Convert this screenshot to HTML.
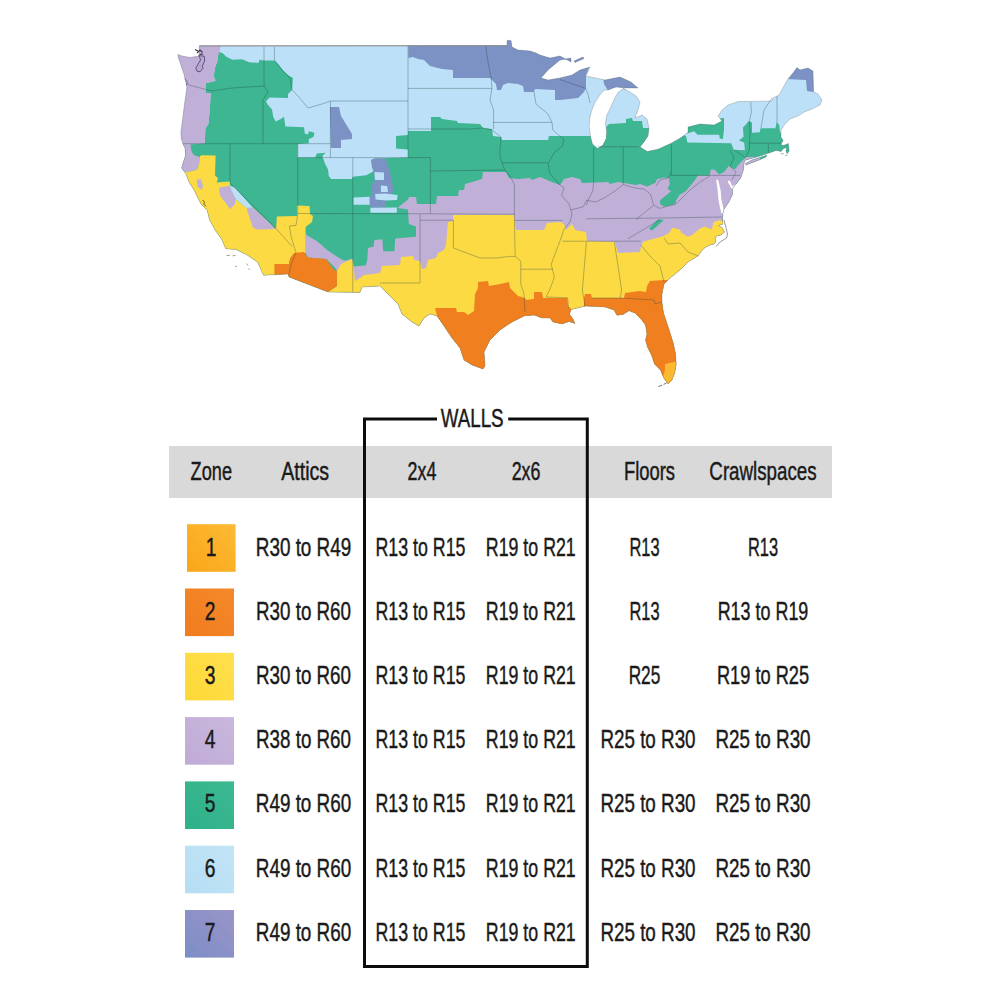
<!DOCTYPE html>
<html><head><meta charset="utf-8"><title>Insulation R-value by climate zone</title>
<style>
html,body{margin:0;padding:0;background:#fff;}
body{width:1000px;height:1000px;overflow:hidden;}
svg{display:block;font-family:"Liberation Sans",sans-serif;}
</style></head><body>
<svg width="1000" height="1000" viewBox="0 0 1000 1000">
<defs><linearGradient id="g0" x1="0" y1="1" x2="1" y2="0"><stop offset="0" stop-color="#F9A619"/><stop offset="1" stop-color="#FDBA35"/></linearGradient><linearGradient id="g1" x1="0" y1="1" x2="1" y2="0"><stop offset="0" stop-color="#F07C1E"/><stop offset="1" stop-color="#F5892A"/></linearGradient><linearGradient id="g2" x1="0" y1="1" x2="1" y2="0"><stop offset="0" stop-color="#FDD835"/><stop offset="1" stop-color="#FFE04F"/></linearGradient><linearGradient id="g3" x1="0" y1="1" x2="1" y2="0"><stop offset="0" stop-color="#BFAAD6"/><stop offset="1" stop-color="#C9B8DD"/></linearGradient><linearGradient id="g4" x1="0" y1="1" x2="1" y2="0"><stop offset="0" stop-color="#2EB088"/><stop offset="1" stop-color="#3DB992"/></linearGradient><linearGradient id="g5" x1="0" y1="1" x2="1" y2="0"><stop offset="0" stop-color="#B5DEF3"/><stop offset="1" stop-color="#C3E4F6"/></linearGradient><linearGradient id="g6" x1="0" y1="1" x2="1" y2="0"><stop offset="0" stop-color="#7C8DC6"/><stop offset="1" stop-color="#9A95C8"/></linearGradient></defs>
<rect width="1000" height="1000" fill="#fff"/>
<clipPath id="us"><path d="M199.4 45.8 L199.0 56.0 L190.0 57.4 L182.0 56.0 L177.8 54.4 L178.4 58.0 L180.2 62.8 L182.0 68.8 L183.8 73.6 L185.0 79.6 L186.2 83.2 L186.8 88.0 L185.6 96.4 L184.4 104.8 L183.2 114.4 L182.0 124.0 L180.8 132.4 L181.4 139.6 L183.2 144.4 L185.0 148.0 L185.6 155.2 L184.0 160.0 L181.6 168.0 L186.0 174.0 L189.0 182.0 L194.0 190.0 L198.0 198.0 L201.0 204.0 L204.0 207.0 L207.2 210.4 L209.6 220.0 L215.6 230.8 L221.6 239.2 L225.8 248.8 L236.0 249.4 L246.8 254.8 L257.6 262.0 L262.4 272.8 L263.6 275.2 L288.0 274.0 L289.0 277.0 L328.0 292.0 L360.0 292.4 L362.0 287.0 L380.0 286.0 L390.0 296.0 L398.0 304.0 L402.0 314.0 L412.0 322.0 L419.0 326.0 L424.0 318.0 L430.0 314.0 L437.0 316.0 L444.0 326.0 L452.0 338.0 L460.0 348.0 L464.0 360.0 L472.0 365.0 L483.0 369.0 L485.0 366.0 L484.0 352.0 L490.0 340.0 L500.0 330.0 L512.0 322.0 L524.0 316.0 L534.0 315.0 L542.0 318.0 L550.0 318.0 L553.0 322.0 L562.0 324.0 L569.0 321.4 L574.8 323.4 L573.2 319.5 L569.4 314.0 L571.2 309.5 L578.4 307.7 L586.0 306.0 L590.0 306.2 L605.0 307.0 L614.0 310.0 L617.0 315.2 L623.0 314.5 L629.0 310.7 L635.0 313.0 L641.0 319.0 L645.5 325.0 L647.0 334.0 L645.5 340.0 L647.7 347.5 L651.5 355.0 L654.5 364.0 L660.5 370.0 L663.5 377.5 L668.0 383.8 L671.7 380.5 L674.7 373.0 L676.2 364.0 L675.5 353.5 L673.2 343.0 L669.5 331.0 L666.5 322.0 L663.5 313.0 L662.0 302.5 L662.0 294.0 L664.0 284.0 L670.0 278.0 L680.0 270.0 L688.0 262.0 L698.0 256.0 L701.5 251.0 L705.0 247.5 L710.0 245.0 L714.0 244.0 L716.0 241.0 L715.0 239.0 L716.5 236.0 L721.0 235.0 L724.5 232.0 L722.0 227.5 L718.5 225.5 L723.0 224.0 L722.5 219.0 L722.8 214.0 L724.0 209.2 L728.8 202.0 L732.4 194.8 L732.4 188.8 L736.0 184.0 L740.8 178.0 L743.2 170.8 L744.4 161.2 L746.0 160.0 L760.0 156.0 L772.0 152.0 L776.0 150.4 L781.0 151.6 L783.5 148.6 L786.6 147.4 L786.0 151.0 L787.1 153.8 L789.2 151.0 L788.4 143.5 L783.4 145.6 L780.8 144.4 L783.2 140.6 L781.0 137.0 L781.0 130.0 L785.0 124.0 L790.0 119.0 L798.0 116.0 L804.0 112.0 L812.0 109.0 L820.0 105.0 L822.0 100.0 L818.0 94.0 L813.6 92.0 L813.0 71.0 L808.0 68.0 L800.0 70.0 L797.0 67.6 L793.0 73.0 L788.0 79.0 L784.0 86.0 L779.0 95.0 L773.0 98.0 L772.0 101.0 L738.0 101.6 L728.0 105.0 L722.0 110.0 L718.0 116.0 L722.0 121.0 L714.0 125.0 L700.0 124.0 L688.0 127.0 L688.0 132.4 L679.6 138.4 L671.2 143.2 L658.0 149.2 L647.2 151.6 L640.0 147.0 L644.0 142.0 L648.0 136.0 L649.0 128.0 L647.0 119.0 L642.0 115.0 L635.0 118.0 L638.0 110.0 L640.0 102.0 L636.0 96.0 L630.0 92.0 L623.6 88.6 L618.4 92.0 L614.5 98.5 L610.6 107.6 L606.7 115.4 L605.4 123.2 L606.7 131.0 L606.1 138.8 L602.8 145.3 L597.6 148.6 L592.4 144.0 L590.5 136.2 L589.2 125.8 L589.8 118.0 L591.8 110.2 L595.0 102.4 L600.2 94.6 L604.1 90.0 L608.0 90.0 L616.0 87.0 L626.0 88.0 L638.0 88.0 L631.0 82.0 L620.0 77.0 L605.0 80.0 L586.0 76.0 L590.0 67.0 L580.0 70.0 L572.0 75.0 L560.0 78.0 L548.0 80.0 L541.0 78.0 L548.0 70.0 L560.0 60.0 L571.0 58.0 L571.0 62.0 L560.0 56.0 L550.0 58.0 L540.0 55.0 L536.0 53.0 L530.0 51.0 L518.0 50.0 L512.0 47.0 L511.0 40.4 L507.0 40.4 L507.0 45.6Z M745.5 163.5 L752.0 160.0 L760.0 157.5 L767.0 155.0 L766.0 157.0 L758.0 160.5 L750.0 163.5 L746.0 165.0Z M574 61 L583 57 L584 58.5 L575 62.5Z"/></clipPath>
<g clip-path="url(#us)">
<rect x="160" y="30" width="680" height="370" fill="#BCE0F7"/>
<polygon points="408.4,38.0 408.4,58.0 413.0,57.0 418.0,59.0 424.0,60.0 430.0,66.0 442.0,69.0 453.0,70.0 453.0,78.0 490.0,78.0 496.0,84.0 497.0,90.0 501.0,90.0 503.0,85.0 508.0,83.0 518.0,84.0 523.0,86.0 524.0,92.0 534.0,92.0 535.0,89.0 555.0,90.0 555.0,100.0 560.0,100.0 578.0,98.0 584.0,92.0 586.0,88.0 586.0,75.0 592.0,60.0 592.0,38.0" fill="#7C91C4" />
<polygon points="603.0,76.0 620.0,73.0 633.0,79.0 642.0,90.0 626.0,89.5 616.0,88.0 608.0,90.5 604.0,84.0" fill="#7C91C4" />
<polygon points="330.0,107.0 339.0,107.0 341.0,116.0 352.0,134.0 352.0,139.0 341.0,140.0 341.0,148.0 331.0,148.0" fill="#7C91C4" />
<polygon points="786.0,79.0 797.0,62.0 820.0,62.0 820.0,93.0 807.0,91.0 806.0,80.0" fill="#7C91C4" />
<polygon points="221.6,40.0 219.2,52.0 222.8,53.2 226.4,56.8 232.4,59.8 242.0,59.2 249.2,62.2 258.8,62.8 259.4,59.8 263.6,60.4 274.4,60.4 278.0,64.0 282.8,70.0 288.0,75.0 293.0,78.0 292.0,90.0 288.0,94.0 288.0,98.0 269.6,97.6 266.0,101.2 267.8,104.8 272.0,109.6 273.2,116.8 275.6,121.6 280.4,119.2 284.0,116.8 285.4,126.4 304.0,127.2 304.8,133.6 308.0,134.4 308.8,131.2 314.4,132.8 313.6,136.8 308.8,139.2 308.8,143.2 297.6,144.0 297.6,157.6 315.2,157.6 316.8,153.6 325.6,152.8 322.4,156.0 324.8,163.2 328.0,169.6 328.8,176.0 331.2,178.9 352.0,178.9 352.8,176.8 366.4,175.2 373.6,171.2 372.0,167.2 371.2,160.0 374.4,158.4 408.0,157.6 408.0,149.6 396.0,148.5 396.0,136.0 408.0,135.0 408.0,131.0 431.0,131.0 431.0,117.0 440.0,117.0 442.0,119.0 457.0,121.0 458.0,123.0 480.0,124.0 483.0,128.0 492.0,129.0 493.0,136.0 501.0,137.0 502.0,140.0 548.0,140.0 549.0,136.0 560.0,136.0 600.0,136.0 607.0,126.0 609.0,124.0 626.0,123.0 626.0,119.0 632.0,118.0 633.0,121.0 642.0,121.0 643.0,128.0 655.0,128.0 670.0,128.0 686.0,136.0 687.4,142.6 731.2,143.2 733.8,149.7 744.9,150.2 744.2,142.6 739.0,140.6 743.6,136.7 742.9,127.6 745.5,125.0 748.8,121.1 752.0,122.4 752.0,132.8 759.8,132.2 760.5,128.3 775.4,128.3 776.7,122.4 779.3,125.0 780.0,132.8 800.0,132.0 800.0,400.0 170.0,400.0 170.0,143.0 204.8,143.2 205.4,128.8 208.4,124.0 209.6,112.0 210.2,102.4 210.8,93.4 205.4,92.8 206.0,83.2 215.6,80.8 213.8,76.0 215.0,67.6 217.4,61.6 218.0,55.6" fill="#3DB691" />
<polygon points="684.0,134.0 687.4,133.6 694.0,131.2 697.6,134.8 719.2,134.8 719.8,138.4 722.8,139.0 724.0,130.0 724.0,118.0 700.0,120.0 684.0,124.0" fill="#3DB691" />
<polygon points="374.4,158.4 385.6,158.4 388.8,168.0 392.0,180.8 393.6,190.4 390.4,195.2 385.6,196.8 385.6,207.2 370.4,207.7 369.6,200.0 372.0,190.4 371.2,184.0 374.4,182.4 374.4,172.8 372.0,167.2 371.2,160.0" fill="#7C91C4" />
<polygon points="374.4,172.0 384.0,172.5 384.0,180.0 375.0,180.0" fill="#BCE0F7" />
<polygon points="380.8,185.6 387.2,186.0 388.0,192.0 381.0,192.0" fill="#BCE0F7" />
<polygon points="375.2,194.0 385.0,193.6 397.6,195.0 397.0,200.0 386.0,200.5 375.5,199.5" fill="#BCE0F7" />
<polygon points="370.4,207.7 396.8,207.4 396.8,212.8 370.4,212.8" fill="#BCE0F7" />
<polygon points="353.6,197.5 369.6,196.8 369.6,204.8 353.6,204.8" fill="#BCE0F7" />
<polygon points="352.8,259.2 353.6,266.4 365.6,265.6 367.2,260.8 368.0,248.0 373.6,246.4 374.4,240.0 382.4,239.2 383.2,251.2 394.4,251.2 395.2,238.4 416.0,236.8 416.0,226.4 408.8,224.0 408.0,209.6 397.6,208.0 403.2,203.2 408.0,199.5 409.0,197.0 416.0,197.0 417.0,204.0 436.0,204.0 437.0,196.0 458.0,196.0 459.0,190.0 464.0,190.0 465.0,184.0 472.0,182.0 482.0,179.0 483.0,172.0 506.0,172.0 509.0,178.0 518.0,179.0 530.0,178.0 532.0,180.0 540.0,177.0 552.0,182.0 560.0,185.0 564.0,179.0 572.0,177.0 580.0,179.0 582.0,183.0 608.0,182.0 610.0,184.0 618.0,182.0 624.0,183.0 636.0,185.0 640.0,184.0 647.2,186.4 655.6,182.8 656.8,179.2 664.0,177.4 668.8,178.0 670.0,184.0 667.6,188.8 671.2,191.2 661.0,199.6 659.8,203.2 664.0,206.8 668.8,205.0 673.6,204.4 679.6,194.8 685.6,191.2 692.8,182.8 696.4,178.0 697.6,175.4 709.6,175.4 710.8,169.6 714.4,169.6 719.2,174.4 724.0,172.0 728.8,166.0 734.8,169.6 739.6,163.6 744.4,158.8 746.0,157.0 760.0,157.0 760.0,400.0 352.8,400.0" fill="#C0AFD6" />
<polygon points="170.0,40.0 221.6,40.0 219.2,52.0 218.0,55.6 217.4,61.6 215.0,67.6 213.8,76.0 215.6,80.8 206.0,83.2 205.4,92.8 210.8,93.4 210.2,102.4 209.6,112.0 208.4,124.0 205.4,128.8 204.8,143.2 190.4,144.4 191.6,151.6 194.0,155.2 200.0,157.0 200.0,158.0 198.0,168.0 196.0,170.0 188.0,172.0 170.0,172.0" fill="#C0AFD6" />
<polygon points="305.6,231.0 306.4,235.0 317.6,241.6 326.4,249.6 336.0,256.0 344.0,260.8 350.4,259.2 352.8,259.2 353.0,273.0 338.5,273.0 334.4,267.0 326.4,259.0 308.0,257.6 305.6,252.8" fill="#C0AFD6" />
<polygon points="649.0,228.4 658.0,219.4 664.0,220.0 655.6,227.2 652.0,230.8" fill="#3DB691" />
<polygon points="660.0,200.0 676.0,198.0 676.0,203.0 668.0,206.0 661.0,205.0" fill="#3DB691" />
<polygon points="337.0,271.0 341.0,264.0 352.0,259.0 353.5,266.0 355.0,281.0 360.0,278.0 364.0,275.0 380.0,273.0 382.0,266.0 400.0,265.0 401.0,257.0 413.0,256.0 414.0,260.0 420.0,261.0 422.0,269.0 426.0,268.0 428.0,260.0 436.0,258.0 438.0,253.0 444.0,250.0 446.0,245.0 448.0,222.0 453.0,221.0 453.0,215.0 514.0,215.0 516.0,230.0 544.0,230.0 547.0,223.0 560.0,222.0 564.0,224.0 566.0,230.0 572.0,224.0 575.0,230.0 586.0,232.0 587.0,241.0 615.0,242.0 618.0,253.0 640.0,252.0 641.0,246.0 643.6,241.6 661.6,236.8 668.8,233.2 672.4,227.8 679.6,229.6 682.0,233.2 688.0,236.8 692.8,234.4 700.0,228.4 704.8,226.6 712.0,229.6 713.2,222.4 719.2,220.0 722.8,221.2 740.0,221.0 740.0,400.0 328.0,400.0 328.0,292.0 337.0,286.0" fill="#FCDA44" />
<polygon points="200.0,156.0 202.4,155.2 215.6,155.5 215.0,175.6 218.0,178.0 216.8,182.8 219.2,182.2 230.0,181.6 230.0,185.8 231.2,190.0 236.0,199.6 246.8,208.0 252.8,207.4 275.6,229.0 276.2,227.2 276.8,216.4 297.0,216.0 297.0,205.6 309.6,206.0 310.0,214.0 313.0,216.0 312.0,222.0 305.6,227.0 305.6,253.0 296.0,253.0 290.0,259.0 289.0,264.0 289.0,285.0 170.0,285.0 170.0,172.0 188.0,172.0 196.0,170.0 198.0,168.0 200.0,158.0" fill="#FCDA44" />
<polygon points="290.0,258.0 294.0,253.0 304.0,252.0 308.0,257.6 326.0,259.0 334.0,270.0 337.0,271.0 337.0,286.0 328.0,292.0 328.0,300.0 289.0,300.0 289.0,264.0" fill="#F07F20" />
<polygon points="274.4,264.0 289.0,264.0 289.0,280.0 274.4,280.0" fill="#F07F20" />
<polygon points="435.0,308.0 456.0,308.0 457.0,312.0 464.0,312.0 468.0,315.0 474.0,311.0 475.0,294.0 478.0,288.0 478.0,282.0 488.0,281.0 489.0,286.0 500.0,284.0 509.0,282.0 510.0,288.0 518.0,296.0 525.0,298.0 526.0,300.0 534.0,299.0 534.0,292.0 542.0,292.0 543.0,298.0 560.0,298.0 567.0,298.0 568.0,306.0 573.0,311.0 580.0,315.0 580.0,400.0 437.0,400.0 437.0,316.0" fill="#F07F20" />
<polygon points="584.0,312.0 584.0,298.0 585.0,294.0 591.0,294.0 592.0,298.0 624.0,298.0 625.0,293.0 640.0,291.0 646.0,292.0 647.0,286.0 650.0,281.0 664.0,280.0 690.0,280.0 690.0,400.0 584.0,400.0" fill="#F07F20" />
<polygon points="665.0,364.0 674.0,362.0 685.0,362.0 685.0,395.0 655.0,395.0 664.0,374.0 665.0,369.0" fill="#FBB831" />
<polygon points="219.2,187.6 230.0,185.8 231.2,190.0 236.0,199.6 234.8,204.4 230.0,209.2 227.6,205.6 224.0,200.8 220.4,196.0 219.2,191.2" fill="#C0AFD6" />
<polygon points="246.8,208.0 252.8,207.4 275.6,229.0 256.4,229.6 252.8,227.2 246.8,209.2" fill="#C0AFD6" />
<polygon points="230.0,185.8 234.8,187.6 252.8,207.4 246.8,208.0 236.0,199.6 231.2,190.0" fill="#BCE0F7" />
<polygon points="196.5,180.0 201.0,179.0 203.0,186.0 201.5,190.0 198.0,187.0" fill="#C0AFD6" />
<polygon points="716.2,180 718,179.6 720.6,190 721.4,199.6 723,206.8 724.4,213.5 721.5,213.5 719.8,206.8 718.4,199.6 717.6,190" fill="#fff"/>
<polygon points="727.5,181.5 729.5,180.5 732.6,186.4 735.5,184.2 737,186 732.4,190" fill="#fff"/>
</g>
<path d="M186 84 L200 88 L212 91 L232 88 L264 86" stroke="#23403f" stroke-opacity="0.55" stroke-width="0.6" fill="none"/>
<path d="M264 47 L264 86 L268 92 L263 100 L263 143.7" stroke="#23403f" stroke-opacity="0.55" stroke-width="0.6" fill="none"/>
<path d="M274.4 47 L274.4 60 L282 70 L290 78 L292 90 L298 96 L308 108 L322 104 L330.4 101" stroke="#23403f" stroke-opacity="0.55" stroke-width="0.6" fill="none"/>
<path d="M183 143.7 L330.4 143.7" stroke="#23403f" stroke-opacity="0.55" stroke-width="0.6" fill="none"/>
<path d="M330.4 101 L330.4 157.6" stroke="#23403f" stroke-opacity="0.55" stroke-width="0.6" fill="none"/>
<path d="M330.4 101 L408 101" stroke="#23403f" stroke-opacity="0.55" stroke-width="0.6" fill="none"/>
<path d="M408 46 L408 157.6" stroke="#23403f" stroke-opacity="0.55" stroke-width="0.6" fill="none"/>
<path d="M408 88.4 L492 88.4" stroke="#23403f" stroke-opacity="0.55" stroke-width="0.6" fill="none"/>
<path d="M408 129 L470 129 L483 128 L492 130 L501 137" stroke="#23403f" stroke-opacity="0.55" stroke-width="0.6" fill="none"/>
<path d="M230 143.7 L230 183 L276 228.5 L292 246.5" stroke="#23403f" stroke-opacity="0.55" stroke-width="0.6" fill="none"/>
<path d="M297.8 143.7 L297.8 213 L296 225.4 L289.4 226 L291.2 236.8 L294.8 248.8 L296 252.4 L291.2 264.4 L288.8 275.2" stroke="#23403f" stroke-opacity="0.55" stroke-width="0.6" fill="none"/>
<path d="M297.8 157.6 L430.4 157.6" stroke="#23403f" stroke-opacity="0.55" stroke-width="0.6" fill="none"/>
<path d="M297.8 213.5 L431 213.8 L514.4 214.3" stroke="#23403f" stroke-opacity="0.55" stroke-width="0.6" fill="none"/>
<path d="M352.8 157.6 L352.8 292" stroke="#23403f" stroke-opacity="0.55" stroke-width="0.6" fill="none"/>
<path d="M430.4 157.6 L430.4 213.8" stroke="#23403f" stroke-opacity="0.55" stroke-width="0.6" fill="none"/>
<path d="M430.4 171 L504.8 170 L511.2 178 L514.4 184.4 L514.4 220.4 L515.2 256.4 L520.8 261.2 L520.8 284 L524 294 L525 312" stroke="#23403f" stroke-opacity="0.55" stroke-width="0.6" fill="none"/>
<path d="M420 214 L420 283 L380 283" stroke="#23403f" stroke-opacity="0.55" stroke-width="0.6" fill="none"/>
<path d="M420 220.2 L453.4 220.2" stroke="#23403f" stroke-opacity="0.55" stroke-width="0.6" fill="none"/>
<path d="M453.4 220.2 L453.4 248 L464 252 L480 258 L496 258 L509.6 256.4 L515.2 256.4" stroke="#23403f" stroke-opacity="0.55" stroke-width="0.6" fill="none"/>
<path d="M520.8 269.2 L552.8 269.2" stroke="#23403f" stroke-opacity="0.55" stroke-width="0.6" fill="none"/>
<path d="M485.6 46 L488 62 L491.2 78 L492 88.4 L490 100 L493.6 110 L493.6 129" stroke="#23403f" stroke-opacity="0.55" stroke-width="0.6" fill="none"/>
<path d="M493 122.4 L552 122.4" stroke="#23403f" stroke-opacity="0.55" stroke-width="0.6" fill="none"/>
<path d="M501 137 L500 150 L500 157.2 L504.8 170" stroke="#23403f" stroke-opacity="0.55" stroke-width="0.6" fill="none"/>
<path d="M502 162.8 L548 162.8" stroke="#23403f" stroke-opacity="0.55" stroke-width="0.6" fill="none"/>
<path d="M534 92 L536 104 L548 114 L552 122.4 L552.8 130 L564 139.6 L562.4 146 L554.4 152.4 L548 163.6 L549.6 173.2 L559.2 184.4 L564 187.6 L561.6 195.6 L568.8 203.6 L572 213.2 L570.4 221.2 L564 229.2 L560.8 238.8 L556 251.6 L551.2 264.4 L554.4 277.2 L549.6 290 L546 297 L567.6 297.8 L568.5 308" stroke="#23403f" stroke-opacity="0.55" stroke-width="0.6" fill="none"/>
<path d="M560 79.6 L585.6 88.4 L588 94 L590 103" stroke="#23403f" stroke-opacity="0.55" stroke-width="0.6" fill="none"/>
<path d="M593.6 147.6 L593.6 182.8 L592.8 190.8 L588 200.4 L586.4 205.2" stroke="#23403f" stroke-opacity="0.55" stroke-width="0.6" fill="none"/>
<path d="M623.2 146.8 L623.2 184.4" stroke="#23403f" stroke-opacity="0.55" stroke-width="0.6" fill="none"/>
<path d="M597.6 146.8 L639 146.8" stroke="#23403f" stroke-opacity="0.55" stroke-width="0.6" fill="none"/>
<path d="M671.4 144 L671.4 176" stroke="#23403f" stroke-opacity="0.55" stroke-width="0.6" fill="none"/>
<path d="M671.4 175.4 L740 175.4" stroke="#23403f" stroke-opacity="0.55" stroke-width="0.6" fill="none"/>
<path d="M570.4 210 L583.2 206.8 L586.4 200.4 L596 202 L605.6 197.2 L615.2 190.8 L623.2 184.4 L632.8 187.6 L644 189.2 L650.4 194 L653.6 205.2 L660 208.4 L668 206" stroke="#23403f" stroke-opacity="0.55" stroke-width="0.6" fill="none"/>
<path d="M653.6 205.2 L636 219.6" stroke="#23403f" stroke-opacity="0.55" stroke-width="0.6" fill="none"/>
<path d="M656 186 L660 180 L668 178 L671.4 172" stroke="#23403f" stroke-opacity="0.55" stroke-width="0.6" fill="none"/>
<path d="M668 206 L676 204 L690 190 L700 182 L710 176" stroke="#23403f" stroke-opacity="0.55" stroke-width="0.6" fill="none"/>
<path d="M514.4 220.4 L562.4 220.4" stroke="#23403f" stroke-opacity="0.55" stroke-width="0.6" fill="none"/>
<path d="M586.4 218.8 L660 218 L722 217" stroke="#23403f" stroke-opacity="0.55" stroke-width="0.6" fill="none"/>
<path d="M562.4 241.2 L640.8 241.2" stroke="#23403f" stroke-opacity="0.55" stroke-width="0.6" fill="none"/>
<path d="M628 238.8 L644 229.2 L660 219.6" stroke="#23403f" stroke-opacity="0.55" stroke-width="0.6" fill="none"/>
<path d="M586.4 242 L582.4 290 L583 294 L585 306" stroke="#23403f" stroke-opacity="0.55" stroke-width="0.6" fill="none"/>
<path d="M614.4 242 L621.6 290 L621 294 L620 298" stroke="#23403f" stroke-opacity="0.55" stroke-width="0.6" fill="none"/>
<path d="M592 298 L620 298 L654 300 L655 304 L662 302" stroke="#23403f" stroke-opacity="0.55" stroke-width="0.6" fill="none"/>
<path d="M640.8 245.2 L650 256 L660 266 L664 282" stroke="#23403f" stroke-opacity="0.55" stroke-width="0.6" fill="none"/>
<path d="M664 238 L668 244 L680 243 L688 252 L698 256" stroke="#23403f" stroke-opacity="0.55" stroke-width="0.6" fill="none"/>
<path d="M750.7 102 L751.4 112 L749.4 121.1 L750 132.8 L749.4 149.7 L746 157" stroke="#23403f" stroke-opacity="0.55" stroke-width="0.6" fill="none"/>
<path d="M772 98 L764 110 L761 128" stroke="#23403f" stroke-opacity="0.55" stroke-width="0.6" fill="none"/>
<path d="M777 96 L777 124" stroke="#23403f" stroke-opacity="0.55" stroke-width="0.6" fill="none"/>
<path d="M749.4 143.2 L781 143.2" stroke="#23403f" stroke-opacity="0.55" stroke-width="0.6" fill="none"/>
<path d="M768.3 143.2 L768.3 153" stroke="#23403f" stroke-opacity="0.55" stroke-width="0.6" fill="none"/>
<path d="M734 150 L746 158" stroke="#23403f" stroke-opacity="0.55" stroke-width="0.6" fill="none"/>
<path d="M730 150 L734 158 L730 166 L736 172 L732 180" stroke="#23403f" stroke-opacity="0.55" stroke-width="0.6" fill="none"/>
<path d="M199.4 45.8 L199.0 56.0 L190.0 57.4 L182.0 56.0 L177.8 54.4 L178.4 58.0 L180.2 62.8 L182.0 68.8 L183.8 73.6 L185.0 79.6 L186.2 83.2 L186.8 88.0 L185.6 96.4 L184.4 104.8 L183.2 114.4 L182.0 124.0 L180.8 132.4 L181.4 139.6 L183.2 144.4 L185.0 148.0 L185.6 155.2 L184.0 160.0 L181.6 168.0 L186.0 174.0 L189.0 182.0 L194.0 190.0 L198.0 198.0 L201.0 204.0 L204.0 207.0 L207.2 210.4 L209.6 220.0 L215.6 230.8 L221.6 239.2 L225.8 248.8 L236.0 249.4 L246.8 254.8 L257.6 262.0 L262.4 272.8 L263.6 275.2 L288.0 274.0 L289.0 277.0 L328.0 292.0 L360.0 292.4 L362.0 287.0 L380.0 286.0 L390.0 296.0 L398.0 304.0 L402.0 314.0 L412.0 322.0 L419.0 326.0 L424.0 318.0 L430.0 314.0 L437.0 316.0 L444.0 326.0 L452.0 338.0 L460.0 348.0 L464.0 360.0 L472.0 365.0 L483.0 369.0 L485.0 366.0 L484.0 352.0 L490.0 340.0 L500.0 330.0 L512.0 322.0 L524.0 316.0 L534.0 315.0 L542.0 318.0 L550.0 318.0 L553.0 322.0 L562.0 324.0 L569.0 321.4 L574.8 323.4 L573.2 319.5 L569.4 314.0 L571.2 309.5 L578.4 307.7 L586.0 306.0 L590.0 306.2 L605.0 307.0 L614.0 310.0 L617.0 315.2 L623.0 314.5 L629.0 310.7 L635.0 313.0 L641.0 319.0 L645.5 325.0 L647.0 334.0 L645.5 340.0 L647.7 347.5 L651.5 355.0 L654.5 364.0 L660.5 370.0 L663.5 377.5 L668.0 383.8 L671.7 380.5 L674.7 373.0 L676.2 364.0 L675.5 353.5 L673.2 343.0 L669.5 331.0 L666.5 322.0 L663.5 313.0 L662.0 302.5 L662.0 294.0 L664.0 284.0 L670.0 278.0 L680.0 270.0 L688.0 262.0 L698.0 256.0 L701.5 251.0 L705.0 247.5 L710.0 245.0 L714.0 244.0 L716.0 241.0 L715.0 239.0 L716.5 236.0 L721.0 235.0 L724.5 232.0 L722.0 227.5 L718.5 225.5 L723.0 224.0 L722.5 219.0 L722.8 214.0 L724.0 209.2 L728.8 202.0 L732.4 194.8 L732.4 188.8 L736.0 184.0 L740.8 178.0 L743.2 170.8 L744.4 161.2 L746.0 160.0 L760.0 156.0 L772.0 152.0 L776.0 150.4 L781.0 151.6 L783.5 148.6 L786.6 147.4 L786.0 151.0 L787.1 153.8 L789.2 151.0 L788.4 143.5 L783.4 145.6 L780.8 144.4 L783.2 140.6 L781.0 137.0 L781.0 130.0 L785.0 124.0 L790.0 119.0 L798.0 116.0 L804.0 112.0 L812.0 109.0 L820.0 105.0 L822.0 100.0 L818.0 94.0 L813.6 92.0 L813.0 71.0 L808.0 68.0 L800.0 70.0 L797.0 67.6 L793.0 73.0 L788.0 79.0 L784.0 86.0 L779.0 95.0 L773.0 98.0 L772.0 101.0 L738.0 101.6 L728.0 105.0 L722.0 110.0 L718.0 116.0 L722.0 121.0 L714.0 125.0 L700.0 124.0 L688.0 127.0 L688.0 132.4 L679.6 138.4 L671.2 143.2 L658.0 149.2 L647.2 151.6 L640.0 147.0 L644.0 142.0 L648.0 136.0 L649.0 128.0 L647.0 119.0 L642.0 115.0 L635.0 118.0 L638.0 110.0 L640.0 102.0 L636.0 96.0 L630.0 92.0 L623.6 88.6 L618.4 92.0 L614.5 98.5 L610.6 107.6 L606.7 115.4 L605.4 123.2 L606.7 131.0 L606.1 138.8 L602.8 145.3 L597.6 148.6 L592.4 144.0 L590.5 136.2 L589.2 125.8 L589.8 118.0 L591.8 110.2 L595.0 102.4 L600.2 94.6 L604.1 90.0 L608.0 90.0 L616.0 87.0 L626.0 88.0 L638.0 88.0 L631.0 82.0 L620.0 77.0 L605.0 80.0 L586.0 76.0 L590.0 67.0 L580.0 70.0 L572.0 75.0 L560.0 78.0 L548.0 80.0 L541.0 78.0 L548.0 70.0 L560.0 60.0 L571.0 58.0 L571.0 62.0 L560.0 56.0 L550.0 58.0 L540.0 55.0 L536.0 53.0 L530.0 51.0 L518.0 50.0 L512.0 47.0 L511.0 40.4 L507.0 40.4 L507.0 45.6Z M745.5 163.5 L752.0 160.0 L760.0 157.5 L767.0 155.0 L766.0 157.0 L758.0 160.5 L750.0 163.5 L746.0 165.0Z M574 61 L583 57 L584 58.5 L575 62.5Z" fill="none" stroke="#555" stroke-opacity="0.45" stroke-width="0.6"/>
<path d="M199.4 45.9 L507 45.7" stroke="#8d8f92" stroke-width="1" fill="none"/>
<path d="M198.8 55.6 L204.2 56.2 L204.8 61 L202.4 65.8 L203 68.2 L200 71.8 L197 71.2 L195.8 68.2 L198.2 64 L200.6 59.8 L199.4 56.8Z" fill="#b7a6d0" stroke="#2a2350" stroke-opacity="0.8" stroke-width="0.8"/>
<path d="M195 49.5 L198 51 M197 53 L200 50 L202.5 52.5 M199.5 54.5 L203 54" fill="none" stroke="#1f1a3a" stroke-opacity="0.85" stroke-width="1.1"/>
<path d="M185 79 L187.5 82 L186.5 84.5" fill="none" stroke="#2a2350" stroke-opacity="0.6" stroke-width="0.8"/>
<path d="M202.6 200 L204.6 202.4 L203.8 204 L206 206.4" fill="none" stroke="#5a3a1a" stroke-opacity="0.8" stroke-width="1"/>
<path d="M226.5 255.6 L230 255.2 M232.5 255.8 L235.5 255.4 M246.5 263.5 L248 265.5 M248.6 268.5 L249.6 270 M235 266.3 L236.8 266.5" fill="none" stroke="#7a7a72" stroke-opacity="0.8" stroke-width="0.9"/>
<path d="M724 220 L726 227.5 L727.5 234 L726.5 238 L720 242 L716 246.5" fill="none" stroke="#4a4a55" stroke-opacity="0.7" stroke-width="0.8"/>
<path d="M658.5 386.5 L662 385.2 M663.5 384.6 L666.5 382.8" fill="none" stroke="#4a4a3a" stroke-opacity="0.8" stroke-width="1"/>
<path d="M781 153.6 L783.5 153.9 M785.5 155.6 L787.5 155.2" fill="none" stroke="#3a5a55" stroke-opacity="0.7" stroke-width="0.8"/>
<rect x="169" y="446" width="663" height="52" fill="#D9D9D9"/>
<path d="M437 418.9 H364.5 V966.5 H587.3 V418.9 H508.2" fill="none" stroke="#0d0d0d" stroke-width="3"/>
<text transform="translate(440.70 427.20) scale(0.7509 1)" font-size="25" fill="#1a1a1a" stroke="#1a1a1a" stroke-width="0.45">WALLS</text>
<text transform="translate(190.60 480.00) scale(0.7267 1)" font-size="25" fill="#1a1a1a" stroke="#1a1a1a" stroke-width="0.45">Zone</text>
<text transform="translate(281.25 480.00) scale(0.7845 1)" font-size="25" fill="#1a1a1a" stroke="#1a1a1a" stroke-width="0.45">Attics</text>
<text transform="translate(407.60 480.00) scale(0.7131 1)" font-size="25" fill="#1a1a1a" stroke="#1a1a1a" stroke-width="0.45">2x4</text>
<text transform="translate(511.70 480.00) scale(0.7131 1)" font-size="25" fill="#1a1a1a" stroke="#1a1a1a" stroke-width="0.45">2x6</text>
<text transform="translate(623.95 480.00) scale(0.7356 1)" font-size="25" fill="#1a1a1a" stroke="#1a1a1a" stroke-width="0.45">Floors</text>
<text transform="translate(709.35 480.00) scale(0.7502 1)" font-size="25" fill="#1a1a1a" stroke="#1a1a1a" stroke-width="0.45">Crawlspaces</text>
<rect x="187" y="524.2" width="48.6" height="47.6" fill="url(#g0)"/>
<text transform="translate(205.63 555.60) scale(0.7400 1)" font-size="26" fill="#1a1a1a" stroke="#1a1a1a" stroke-width="0.45">1</text>
<text transform="translate(255.75 555.60) scale(0.7262 1)" font-size="26" fill="#1a1a1a" stroke="#1a1a1a" stroke-width="0.45">R30 to R49</text>
<text transform="translate(375.50 555.60) scale(0.6844 1)" font-size="26" fill="#1a1a1a" stroke="#1a1a1a" stroke-width="0.45">R13 to R15</text>
<text transform="translate(485.80 555.60) scale(0.6844 1)" font-size="26" fill="#1a1a1a" stroke="#1a1a1a" stroke-width="0.45">R19 to R21</text>
<text transform="translate(629.40 555.60) scale(0.6325 1)" font-size="26" fill="#1a1a1a" stroke="#1a1a1a" stroke-width="0.45">R13</text>
<text transform="translate(747.90 555.60) scale(0.6325 1)" font-size="26" fill="#1a1a1a" stroke="#1a1a1a" stroke-width="0.45">R13</text>
<rect x="185" y="588.5" width="49" height="47.6" fill="url(#g1)"/>
<text transform="translate(204.63 619.80) scale(0.7400 1)" font-size="26" fill="#1a1a1a" stroke="#1a1a1a" stroke-width="0.45">2</text>
<text transform="translate(256.00 619.80) scale(0.7224 1)" font-size="26" fill="#1a1a1a" stroke="#1a1a1a" stroke-width="0.45">R30 to R60</text>
<text transform="translate(375.50 619.80) scale(0.6844 1)" font-size="26" fill="#1a1a1a" stroke="#1a1a1a" stroke-width="0.45">R13 to R15</text>
<text transform="translate(485.80 619.80) scale(0.6844 1)" font-size="26" fill="#1a1a1a" stroke="#1a1a1a" stroke-width="0.45">R19 to R21</text>
<text transform="translate(629.40 619.80) scale(0.6325 1)" font-size="26" fill="#1a1a1a" stroke="#1a1a1a" stroke-width="0.45">R13</text>
<text transform="translate(717.65 619.80) scale(0.6897 1)" font-size="26" fill="#1a1a1a" stroke="#1a1a1a" stroke-width="0.45">R13 to R19</text>
<rect x="185" y="652.8" width="49" height="47.6" fill="url(#g2)"/>
<text transform="translate(204.63 684.00) scale(0.7400 1)" font-size="26" fill="#1a1a1a" stroke="#1a1a1a" stroke-width="0.45">3</text>
<text transform="translate(256.00 684.00) scale(0.7224 1)" font-size="26" fill="#1a1a1a" stroke="#1a1a1a" stroke-width="0.45">R30 to R60</text>
<text transform="translate(375.50 684.00) scale(0.6844 1)" font-size="26" fill="#1a1a1a" stroke="#1a1a1a" stroke-width="0.45">R13 to R15</text>
<text transform="translate(485.80 684.00) scale(0.6844 1)" font-size="26" fill="#1a1a1a" stroke="#1a1a1a" stroke-width="0.45">R19 to R21</text>
<text transform="translate(628.65 684.00) scale(0.6639 1)" font-size="26" fill="#1a1a1a" stroke="#1a1a1a" stroke-width="0.45">R25</text>
<text transform="translate(716.90 684.00) scale(0.7011 1)" font-size="26" fill="#1a1a1a" stroke="#1a1a1a" stroke-width="0.45">R19 to R25</text>
<rect x="185" y="717.1" width="49" height="47.6" fill="url(#g3)"/>
<text transform="translate(204.63 748.20) scale(0.7400 1)" font-size="26" fill="#1a1a1a" stroke="#1a1a1a" stroke-width="0.45">4</text>
<text transform="translate(256.00 748.20) scale(0.7224 1)" font-size="26" fill="#1a1a1a" stroke="#1a1a1a" stroke-width="0.45">R38 to R60</text>
<text transform="translate(375.50 748.20) scale(0.6844 1)" font-size="26" fill="#1a1a1a" stroke="#1a1a1a" stroke-width="0.45">R13 to R15</text>
<text transform="translate(485.80 748.20) scale(0.6844 1)" font-size="26" fill="#1a1a1a" stroke="#1a1a1a" stroke-width="0.45">R19 to R21</text>
<text transform="translate(600.40 748.20) scale(0.7240 1)" font-size="26" fill="#1a1a1a" stroke="#1a1a1a" stroke-width="0.45">R25 to R30</text>
<text transform="translate(715.40 748.20) scale(0.7240 1)" font-size="26" fill="#1a1a1a" stroke="#1a1a1a" stroke-width="0.45">R25 to R30</text>
<rect x="185" y="781.4" width="49" height="47.6" fill="url(#g4)"/>
<text transform="translate(204.63 812.40) scale(0.7400 1)" font-size="26" fill="#1a1a1a" stroke="#1a1a1a" stroke-width="0.45">5</text>
<text transform="translate(255.75 812.40) scale(0.7262 1)" font-size="26" fill="#1a1a1a" stroke="#1a1a1a" stroke-width="0.45">R49 to R60</text>
<text transform="translate(375.50 812.40) scale(0.6844 1)" font-size="26" fill="#1a1a1a" stroke="#1a1a1a" stroke-width="0.45">R13 to R15</text>
<text transform="translate(485.80 812.40) scale(0.6844 1)" font-size="26" fill="#1a1a1a" stroke="#1a1a1a" stroke-width="0.45">R19 to R21</text>
<text transform="translate(600.40 812.40) scale(0.7240 1)" font-size="26" fill="#1a1a1a" stroke="#1a1a1a" stroke-width="0.45">R25 to R30</text>
<text transform="translate(715.40 812.40) scale(0.7240 1)" font-size="26" fill="#1a1a1a" stroke="#1a1a1a" stroke-width="0.45">R25 to R30</text>
<rect x="185" y="845.7" width="49" height="47.6" fill="url(#g5)"/>
<text transform="translate(204.63 876.60) scale(0.7400 1)" font-size="26" fill="#1a1a1a" stroke="#1a1a1a" stroke-width="0.45">6</text>
<text transform="translate(255.75 876.60) scale(0.7262 1)" font-size="26" fill="#1a1a1a" stroke="#1a1a1a" stroke-width="0.45">R49 to R60</text>
<text transform="translate(375.50 876.60) scale(0.6844 1)" font-size="26" fill="#1a1a1a" stroke="#1a1a1a" stroke-width="0.45">R13 to R15</text>
<text transform="translate(485.80 876.60) scale(0.6844 1)" font-size="26" fill="#1a1a1a" stroke="#1a1a1a" stroke-width="0.45">R19 to R21</text>
<text transform="translate(600.40 876.60) scale(0.7240 1)" font-size="26" fill="#1a1a1a" stroke="#1a1a1a" stroke-width="0.45">R25 to R30</text>
<text transform="translate(715.40 876.60) scale(0.7240 1)" font-size="26" fill="#1a1a1a" stroke="#1a1a1a" stroke-width="0.45">R25 to R30</text>
<rect x="185" y="910.0" width="49" height="47.6" fill="url(#g6)"/>
<text transform="translate(204.63 940.80) scale(0.7400 1)" font-size="26" fill="#1a1a1a" stroke="#1a1a1a" stroke-width="0.45">7</text>
<text transform="translate(255.75 940.80) scale(0.7262 1)" font-size="26" fill="#1a1a1a" stroke="#1a1a1a" stroke-width="0.45">R49 to R60</text>
<text transform="translate(375.50 940.80) scale(0.6844 1)" font-size="26" fill="#1a1a1a" stroke="#1a1a1a" stroke-width="0.45">R13 to R15</text>
<text transform="translate(485.80 940.80) scale(0.6844 1)" font-size="26" fill="#1a1a1a" stroke="#1a1a1a" stroke-width="0.45">R19 to R21</text>
<text transform="translate(600.40 940.80) scale(0.7240 1)" font-size="26" fill="#1a1a1a" stroke="#1a1a1a" stroke-width="0.45">R25 to R30</text>
<text transform="translate(715.40 940.80) scale(0.7240 1)" font-size="26" fill="#1a1a1a" stroke="#1a1a1a" stroke-width="0.45">R25 to R30</text>
</svg>
</body></html>
